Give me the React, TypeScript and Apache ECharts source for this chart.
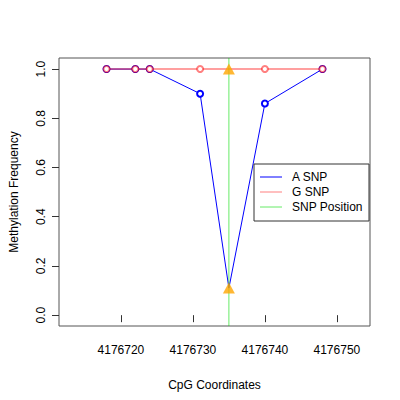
import { useEffect, useRef } from 'react';
import * as echarts from 'echarts';

// CpG positions and methylation values
const positions = [4176718, 4176722, 4176724, 4176731, 4176735, 4176740, 4176748];
const aSnp = [1.0, 1.0, 1.0, 0.9, 0.11, 0.86, 1.0];
const gSnp = [1.0, 1.0, 1.0, 1.0, 1.0, 1.0, 1.0];
const snpPosition = 4176735;
const snpMarks = [1.0, 0.11];
const xTicks = [4176720, 4176730, 4176740, 4176750];
const yTicks = [0, 0.2, 0.4, 0.6, 0.8, 1.0];
const legendNames = ['A SNP', 'G SNP', 'SNP Position'];
const legendColors = ['#0000ff', 'rgba(255,0,0,0.5)', 'rgba(0,220,0,0.6)'];

const FONT = '"Liberation Sans", Arial, Helvetica, sans-serif';
const X_MIN = 4176711.4;
const X_MAX = 4176754.6;
const Y_MIN = -0.044;
const Y_MAX = 1.045;

// the point under the SNP triangle is hidden by it
const toPoints = (vals: number[]) =>
  positions.map((p, i) =>
    p === snpPosition ? { value: [p, vals[i]], symbol: 'none' } : { value: [p, vals[i]] }
  );

export default function App() {
  const chartRef = useRef<HTMLDivElement>(null);

  useEffect(() => {
    if (!chartRef.current) return;
    const chart = echarts.init(chartRef.current, undefined, { renderer: 'svg' });

    const legendTop = 164;
    const legendLeft = 254;

    const option: any = {
      animation: false,
      backgroundColor: '#ffffff',
      textStyle: { fontFamily: FONT },
      grid: {
        left: 59,
        right: 30,
        top: 58,
        bottom: 74,
        containLabel: false,
        outerBoundsMode: 'none',
        show: true,
        borderColor: '#555555',
        borderWidth: 1,
        backgroundColor: 'transparent'
      },
      xAxis: {
        type: 'value',
        min: X_MIN,
        max: X_MAX,
        name: 'CpG Coordinates',
        nameLocation: 'middle',
        nameGap: 53,
        nameTextStyle: { color: '#000', fontSize: 12, fontFamily: FONT },
        axisLine: { show: false },
        axisTick: {
          show: true,
          length: 7,
          customValues: xTicks,
          lineStyle: { color: '#333' }
        },
        axisLabel: {
          customValues: xTicks,
          color: '#000',
          fontSize: 12,
          margin: 18,
          fontFamily: FONT,
          formatter: (v: number) => String(v)
        },
        splitLine: { show: false }
      },
      yAxis: {
        type: 'value',
        min: Y_MIN,
        max: Y_MAX,
        axisLine: { show: false },
        axisTick: {
          show: true,
          length: 7,
          customValues: yTicks,
          lineStyle: { color: '#333' }
        },
        axisLabel: {
          customValues: yTicks,
          color: '#000',
          fontSize: 12,
          rotate: 90,
          margin: 12,
          fontFamily: FONT,
          formatter: (v: number) => v.toFixed(1)
        },
        splitLine: { show: false }
      },
      series: [
        {
          name: 'A SNP',
          type: 'line',
          data: toPoints(aSnp),
          symbol: 'emptyCircle',
          symbolSize: 6,
          lineStyle: { color: '#0000ff', width: 1 },
          itemStyle: { color: '#0000ff', borderWidth: 0.9 },
          z: 2
        },
        {
          name: 'G SNP',
          type: 'line',
          data: toPoints(gSnp),
          symbol: 'emptyCircle',
          symbolSize: 6,
          lineStyle: { color: 'rgba(255,0,0,0.5)', width: 1.5 },
          itemStyle: { color: 'rgba(255,0,0,0.5)', borderWidth: 1 },
          z: 3
        },
        {
          name: 'SNP Position',
          type: 'line',
          data: [[snpPosition, Y_MIN], [snpPosition, Y_MAX]],
          symbol: 'none',
          lineStyle: { color: 'rgba(0,220,0,0.6)', width: 1 },
          z: 4
        },
        {
          name: 'SNP',
          type: 'scatter',
          data: snpMarks.map(v => [snpPosition, v]),
          symbol: 'triangle',
          symbolSize: [12, 11],
          itemStyle: { color: '#ffa500' },
          z: 5
        }
      ],
      graphic: [
        {
          type: 'text',
          x: 14,
          y: 192,
          rotation: Math.PI / 2,
          style: {
            text: 'Methylation Frequency',
            fill: '#000',
            fontSize: 12,
            fontFamily: FONT,
            align: 'center',
            verticalAlign: 'middle'
          }
        },
        {
          type: 'rect',
          shape: { x: legendLeft, y: legendTop, width: 115, height: 57 },
          style: { fill: '#fff', stroke: '#333', lineWidth: 1 },
          z: 10
        },
        ...legendNames.flatMap((name, i) => {
          const y = legendTop + 13 + i * 15;
          return [
            {
              type: 'line',
              shape: { x1: 260, y1: y, x2: 282, y2: y },
              style: { stroke: legendColors[i], lineWidth: 1 },
              z: 11
            },
            {
              type: 'text',
              x: 292,
              y,
              style: {
                text: name,
                fill: '#000',
                fontSize: 12,
                fontFamily: FONT,
                verticalAlign: 'middle',
                align: 'left'
              },
              z: 11
            }
          ];
        })
      ]
    };

    chart.setOption(option);
    return () => chart.dispose();
  }, []);

  return <div ref={chartRef} style={{ width: 400, height: 400, margin: -8 }} />;
}
